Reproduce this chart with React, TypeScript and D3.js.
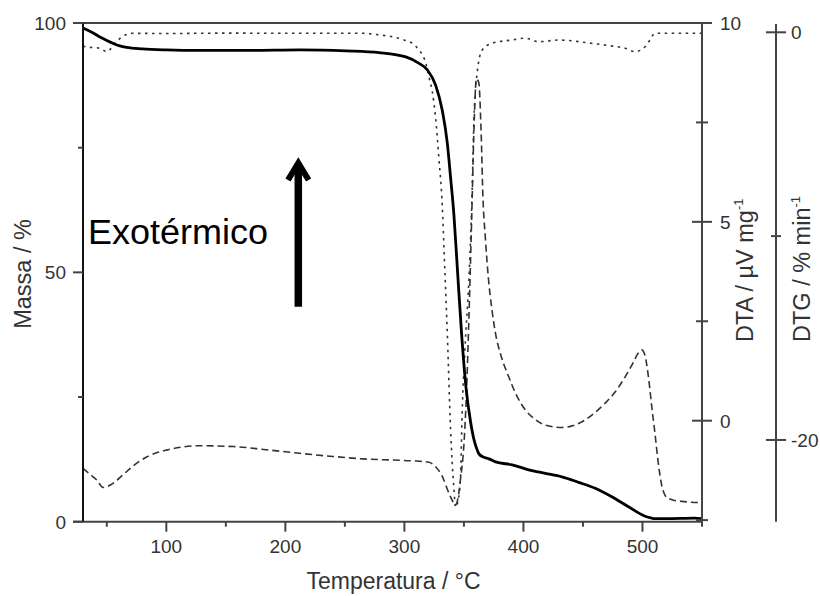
import React from "react";
import * as d3 from "d3";

// ---- Data ----
const massT = [30, 37, 44.2, 50, 55.4, 61, 66.6, 80, 100, 128, 170, 211.8, 250.9, 278.8, 301.2, 312.3, 319.3, 326.3, 331.8, 336, 338.8, 341.6, 344.4, 348, 351.7, 355.6, 358.4, 360.5, 362.6, 366, 371, 376.6, 390.5, 404.4, 418.4, 432.3, 446.3, 460.3, 474.2, 488.2, 502.2, 507, 510.6, 520, 544, 550];
const massV = [99.0, 98.2, 97.2, 96.5, 95.9, 95.4, 95.1, 94.8, 94.6, 94.5, 94.5, 94.6, 94.4, 94.05, 93.2, 91.9, 90.6, 87.5, 82.5, 76, 69, 61.5, 51.1, 37.8, 27, 20, 16.5, 14.8, 13.6, 13.0, 12.6, 12.0, 11.4, 10.4, 9.7, 9.0, 7.9, 6.7, 5.0, 3.0, 1.1, 0.75, 0.6, 0.6, 0.7, 0.6];

const dtaT = [30, 36, 41.5, 47, 55, 64, 72, 83, 100, 114, 128, 156, 184, 212, 240, 265, 290, 307, 320, 326, 331.8, 337.4, 341, 343, 345, 347, 350, 352, 354.2, 356.7, 358.5, 360.5, 362.5, 364.5, 366, 368, 370.5, 373.5, 376.5, 381, 387.7, 394, 401.6, 410, 418.4, 432.4, 442, 451.9, 460, 468.6, 477, 485.4, 492, 496.5, 499.4, 502, 505, 508, 510.5, 513, 516, 519, 521.7, 526, 533, 541, 550];
const dtaV = [-1.2, -1.35, -1.49, -1.68, -1.58, -1.35, -1.14, -0.92, -0.74, -0.66, -0.63, -0.65, -0.73, -0.82, -0.9, -0.96, -0.99, -1.01, -1.04, -1.15, -1.4, -1.82, -2.05, -2.12, -1.95, -1.5, -0.6, 0.6, 2.6, 5.3, 7.4, 8.6, 8.5, 7.2, 5.6, 4.6, 3.6, 2.8, 2.2, 1.65, 1.1, 0.65, 0.27, 0.03, -0.11, -0.17, -0.12, 0.02, 0.2, 0.44, 0.72, 1.1, 1.45, 1.7, 1.78, 1.65, 1.1, 0.3, -0.32, -1.0, -1.6, -1.88, -1.95, -2.0, -2.03, -2.05, -2.06];

const dtgT = [30, 32, 44, 50, 58, 66, 72, 100, 150, 200, 250, 265, 279, 290, 301, 307, 312.3, 316, 318, 320.7, 323.4, 326.2, 329, 331.8, 333.5, 336, 338.8, 341.6, 343, 345, 347.1, 348.5, 350.8, 354.2, 356.7, 358.4, 360.9, 365.3, 373.7, 390, 401.7, 412.8, 430, 457, 475, 485.4, 493.8, 502.2, 506, 510.6, 520, 550];
const dtgV = [-0.67, -0.71, -0.78, -0.95, -0.46, -0.12, -0.05, -0.06, -0.04, -0.05, -0.05, -0.05, -0.13, -0.22, -0.4, -0.55, -0.87, -1.2, -1.52, -2.2, -2.9, -4.2, -6.2, -8.5, -11.0, -14.7, -19.5, -22.4, -23.3, -23.0, -21.9, -18.7, -15.6, -12.1, -8.2, -4.3, -2.1, -0.87, -0.54, -0.38, -0.29, -0.46, -0.38, -0.54, -0.68, -0.78, -0.95, -0.71, -0.4, -0.05, -0.05, -0.05];

const xMajor = [100, 200, 300, 400, 500];
const xMinor = [50, 150, 250, 350, 450, 550];
const massMajor = [0, 50, 100];
const massMinor = [25, 75];
const dtaMajor = [0, 5, 10];
const dtaMinor = [-2.5, 2.5, 7.5];
const dtgMajor = [0, -20];
const dtgMinor = [-10];

const FONT = "'Liberation Sans', Arial, Helvetica, sans-serif";

export default function App() {
  const left = 83, right = 702, top = 23, bottom = 521.7;
  const x = d3.scaleLinear().domain([30, 550]).range([left, right]);
  const yM = d3.scaleLinear().domain([0, 100]).range([bottom, top]);
  const yA = d3.scaleLinear().domain([-2.54, 10]).range([bottom, top]);
  const yG = d3.scaleLinear().domain([-24.01, 0.456]).range([bottom, top]);
  const dtgX = 776;

  const mk = (ts: number[], vs: number[], ys: d3.ScaleLinear<number, number>) =>
    d3.line<number>().x((_, i) => x(ts[i])).y((v) => ys(v)).curve(d3.curveMonotoneX)(vs) || "";

  const axisCol = "#444";
  const txtCol = "#333";

  return (
    <svg width={820} height={596} style={{ position: "absolute", left: 0, top: 0, background: "#fff" }} fontFamily={FONT}>
      <rect width={820} height={596} fill="#fff" />
      {/* curves */}
      <path d={mk(dtaT, dtaV, yA)} fill="none" stroke="#333" strokeWidth={1.6} strokeDasharray="7,4" />
      <path d={mk(dtgT, dtgV, yG)} fill="none" stroke="#333" strokeWidth={1.6} strokeDasharray="2.5,4.5" />
      <path d={mk(massT, massV, yM)} fill="none" stroke="#000" strokeWidth={2.8} />

      {/* frame */}
      <line x1={left - 10} x2={right} y1={top} y2={top} stroke={axisCol} strokeWidth={2} />
      <line x1={left - 10} x2={right} y1={bottom} y2={bottom} stroke={axisCol} strokeWidth={2} />
      <line x1={left} x2={left} y1={top} y2={bottom} stroke="#111" strokeWidth={2} />
      <line x1={right} x2={right} y1={top} y2={bottom + 2} stroke={axisCol} strokeWidth={2} />

      {/* bottom axis */}
      {xMajor.map((t) => (
        <g key={"xM" + t}>
          <line x1={x(t)} x2={x(t)} y1={bottom} y2={bottom + 10} stroke={axisCol} strokeWidth={2} />
          <text x={x(t)} y={553} textAnchor="middle" fontSize={19} fill={txtCol}>{t}</text>
        </g>
      ))}
      {xMinor.map((t) => (
        <line key={"xm" + t} x1={x(t)} x2={x(t)} y1={bottom} y2={bottom + 5} stroke={axisCol} strokeWidth={2} />
      ))}
      <text x={(left + right) / 2 + 1} y={589} textAnchor="middle" fontSize={23} fill={txtCol}>Temperatura / °C</text>

      {/* left mass axis */}
      {massMajor.map((v) => (
        <g key={"mM" + v}>
          <line x1={left - 10} x2={left} y1={yM(v)} y2={yM(v)} stroke={axisCol} strokeWidth={2} />
          <text x={66} y={yM(v) + 7} textAnchor="end" fontSize={19} fill={txtCol}>{v}</text>
        </g>
      ))}
      {massMinor.map((v) => (
        <line key={"mm" + v} x1={left - 5} x2={left} y1={yM(v)} y2={yM(v)} stroke={axisCol} strokeWidth={2} />
      ))}
      <text transform={`translate(31,274) rotate(-90)`} textAnchor="middle" fontSize={23.5} fill={txtCol}>Massa / %</text>

      {/* right DTA axis */}
      {dtaMajor.map((v) => (
        <g key={"aM" + v}>
          <line x1={v === 10 ? right : right - 10} x2={right + 10} y1={yA(v)} y2={yA(v)} stroke={axisCol} strokeWidth={2} />
          <text x={720} y={yA(v) + 7} textAnchor="start" fontSize={19} fill={txtCol}>{v}</text>
        </g>
      ))}
      {dtaMinor.map((v) => (
        <line key={"am" + v} x1={right - 6} x2={right + 6} y1={yA(v)} y2={yA(v)} stroke={axisCol} strokeWidth={2} />
      ))}
      <text transform={`translate(753,342) rotate(-90)`} textAnchor="start" fontSize={23.5} fill={txtCol}>
        DTA / µV mg<tspan fontSize={13} dy={-10}>-1</tspan>
      </text>

      {/* far right DTG axis */}
      <line x1={dtgX} x2={dtgX} y1={24} y2={bottom} stroke={axisCol} strokeWidth={2} />
      {dtgMajor.map((v) => (
        <g key={"gM" + v}>
          <line x1={dtgX - 10} x2={dtgX + 10} y1={yG(v)} y2={yG(v)} stroke={axisCol} strokeWidth={2} />
          <text x={791} y={yG(v) + 7} textAnchor="start" fontSize={19} fill={txtCol}>{v}</text>
        </g>
      ))}
      {dtgMinor.map((v) => (
        <line key={"gm" + v} x1={dtgX - 5} x2={dtgX + 5} y1={yG(v)} y2={yG(v)} stroke={axisCol} strokeWidth={2} />
      ))}
      <text transform={`translate(810,342) rotate(-90)`} textAnchor="start" fontSize={23.5} fill={txtCol}>
        DTG / % min<tspan fontSize={13} dy={-10}>-1</tspan>
      </text>

      {/* annotation */}
      <text x={88} y={243.5} fontSize={34.5} fill="#000" textLength={180} lengthAdjust="spacingAndGlyphs">Exotérmico</text>
      <line x1={298.3} x2={298.3} y1={306.7} y2={165} stroke="#000" strokeWidth={7.5} />
      <polyline points="288,180 298.3,163 308.6,180" fill="none" stroke="#000" strokeWidth={6} strokeLinejoin="miter" />
    </svg>
  );
}
